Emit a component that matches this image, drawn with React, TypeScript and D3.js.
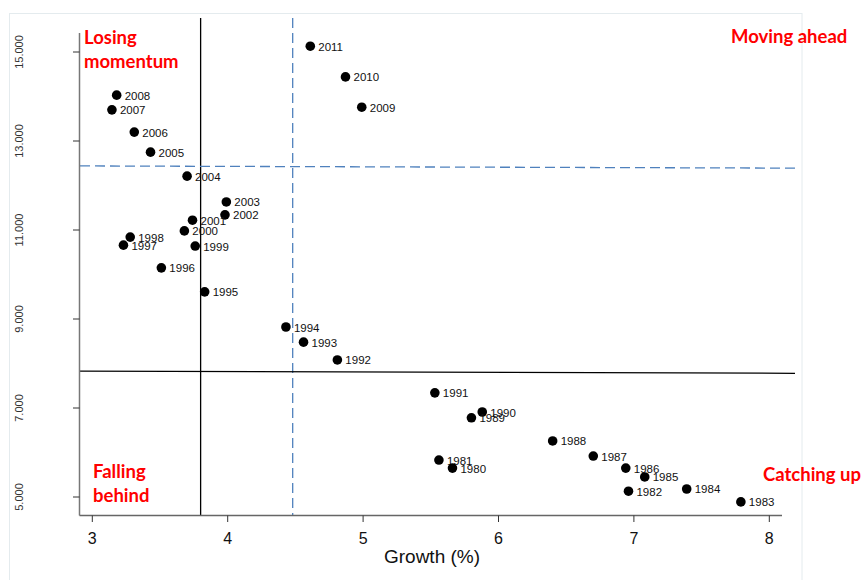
import React from "react";
import * as d3 from "d3";

const years = [2011, 2010, 2009, 2008, 2007, 2006, 2005, 2004, 2003, 2002, 2001, 2000, 1999, 1998, 1997, 1996, 1995, 1994, 1993, 1992, 1991, 1990, 1989, 1988, 1987, 1986, 1985, 1984, 1983, 1982, 1981, 1980];
const growth = [4.61, 4.87, 4.99, 3.18, 3.145, 3.31, 3.43, 3.70, 3.99, 3.98, 3.74, 3.68, 3.76, 3.28, 3.23, 3.51, 3.83, 4.43, 4.56, 4.81, 5.53, 5.88, 5.80, 6.40, 6.70, 6.94, 7.08, 7.39, 7.79, 6.96, 5.56, 5.66];
const level = [15.13, 14.44, 13.76, 14.03, 13.70, 13.20, 12.75, 12.21, 11.63, 11.34, 11.22, 10.98, 10.64, 10.84, 10.66, 10.15, 9.61, 8.82, 8.48, 8.08, 7.34, 6.91, 6.78, 6.26, 5.92, 5.65, 5.45, 5.18, 4.89, 5.13, 5.83, 5.65];

const xTicks = [3, 4, 5, 6, 7, 8];
const yTicks = [5, 7, 9, 11, 13, 15];
const yTickLabels = ["5.000", "7.000", "9.000", "11.000", "13.000", "15.000"];

const growthThresholdSolid = 3.8;
const growthThresholdDashed = 4.48;
const levelThresholdSolid = [7.83, 7.78];
const levelThresholdDashed = [12.44, 12.39];

const quadrantLabels = [
  { lines: ["Losing", "momentum"], x: 84, y: 44 },
  { lines: ["Moving ahead"], x: 731, y: 43 },
  { lines: ["Falling", "behind"], x: 93, y: 478 },
  { lines: ["Catching up"], x: 763, y: 481 },
];

export default function App() {
  const W = 863;
  const H = 580;
  const x = d3.scaleLinear().domain([3, 8]).range([92.3, 769.3]);
  const y = d3.scaleLinear().domain([5, 15]).range([497, 52]);
  const axisLeft = 79.5;
  const axisBottom = 515.5;
  const axisRight = 782;
  const axisTop = 33;
  const lineLeft = 80;
  const lineRight = 795;
  const font = "'Liberation Sans', Arial, sans-serif";

  return (
    <div style={{ position: "fixed", left: 0, top: 0, width: W, height: H, background: "#fff" }}>
      <svg width={W} height={H} style={{ display: "block" }}>
        <rect x={9.5} y={13.5} width={792.5} height={600} fill="none" stroke="#e4ebee" strokeWidth={1} />

        {/* reference lines */}
        <line x1={x(growthThresholdSolid)} x2={x(growthThresholdSolid)} y1={18} y2={axisBottom} stroke="#000" strokeWidth={1.3} />
        <line x1={x(growthThresholdDashed)} x2={x(growthThresholdDashed)} y1={18} y2={axisBottom} stroke="#4f81bd" strokeWidth={1.3} strokeDasharray="10,5" />
        <line x1={lineLeft} x2={lineRight} y1={y(levelThresholdSolid[0])} y2={y(levelThresholdSolid[1])} stroke="#000" strokeWidth={1.3} />
        <line x1={lineLeft} x2={lineRight} y1={y(levelThresholdDashed[0])} y2={y(levelThresholdDashed[1])} stroke="#4f81bd" strokeWidth={1.3} strokeDasharray="10,5" />

        {/* axes */}
        <line x1={axisLeft} x2={axisLeft} y1={axisTop} y2={axisBottom} stroke="#777" strokeWidth={1.5} />
        <line x1={axisLeft} x2={axisRight} y1={axisBottom} y2={axisBottom} stroke="#666" strokeWidth={1.5} />
        {yTicks.map((t, i) => (
          <g key={"y" + t}>
            <line x1={73} x2={axisLeft} y1={y(t)} y2={y(t)} stroke="#333" strokeWidth={1} />
            <text
              transform={`translate(23,${y(t)}) rotate(-90)`}
              textAnchor="middle"
              fontFamily={font}
              fontSize={11}
              fill="#333"
            >
              {yTickLabels[i]}
            </text>
          </g>
        ))}
        {xTicks.map((t) => (
          <g key={"x" + t}>
            <line x1={x(t)} x2={x(t)} y1={axisBottom} y2={522} stroke="#333" strokeWidth={1} />
            <text x={x(t)} y={544} textAnchor="middle" fontFamily={font} fontSize={16} fill="#111">
              {t}
            </text>
          </g>
        ))}
        <text x={432} y={563} textAnchor="middle" fontFamily={font} fontSize={19} fill="#111">
          Growth (%)
        </text>

        {/* points */}
        {years.map((yr, i) => (
          <g key={yr}>
            <circle cx={x(growth[i])} cy={y(level[i])} r={4.8} fill="#000" />
            <text x={x(growth[i]) + 8} y={y(level[i]) + 4.5} fontFamily={font} fontSize={11.5} fill="#111">
              {yr}
            </text>
          </g>
        ))}

        {/* quadrant labels */}
        {quadrantLabels.map((q) => (
          <text key={q.lines[0]} x={q.x} y={q.y} fontFamily="Lato, 'Open Sans', sans-serif" fontWeight="bold" fontSize={18.5} fill="#ff0000">
            {q.lines.map((l, j) => (
              <tspan key={l} x={q.x} y={q.y + j * 24}>
                {l}
              </tspan>
            ))}
          </text>
        ))}
      </svg>
    </div>
  );
}
